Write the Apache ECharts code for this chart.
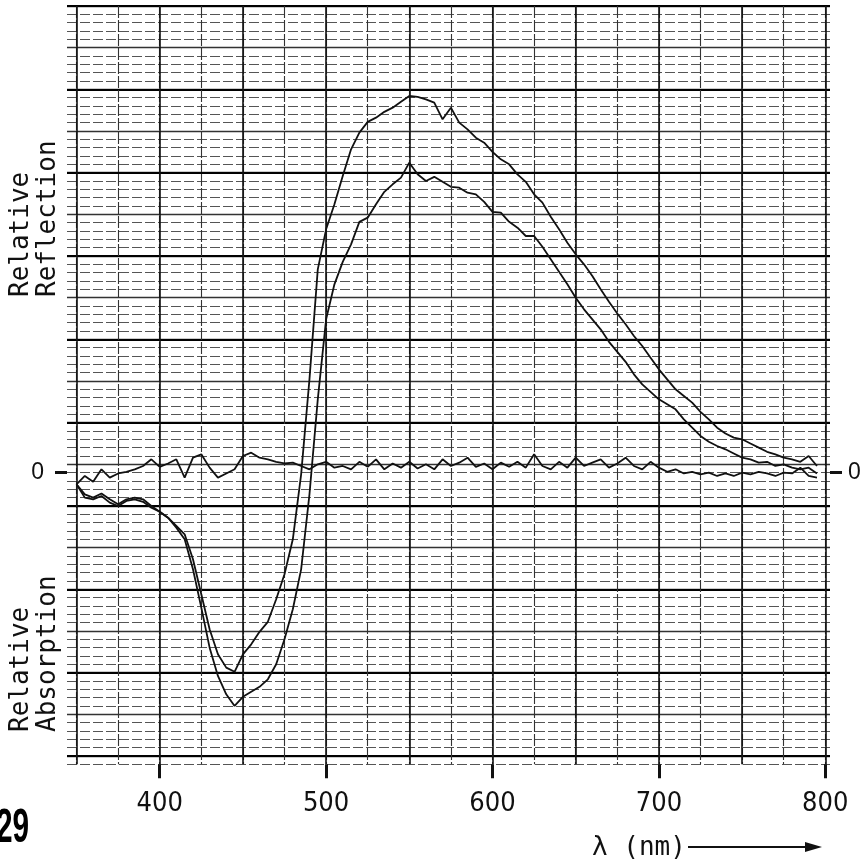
<!DOCTYPE html>
<html>
<head>
<meta charset="utf-8">
<script src="https://cdn.jsdelivr.net/npm/echarts@6/dist/echarts.min.js"></script>
<style>
  html, body { margin: 0; padding: 0; background: #fff; }
  #chart { width: 868px; height: 860px; }
</style>
</head>
<body>
<div id="chart"></div>
<script>
// Wavelengths (nm)
const wavelengths = [350,355,360,365,370,375,380,385,390,395,400,405,410,415,420,425,430,435,440,445,
  450,455,460,465,470,475,480,485,490,495,500,505,510,515,520,525,530,535,540,545,
  550,555,560,565,570,575,580,585,590,595,600,605,610,615,620,625,630,635,640,645,
  650,655,660,665,670,675,680,685,690,695,700,705,710,715,720,725,730,735,740,745,
  750,755,760,765,770,775,780,785,790,795];

// Curve A: shallower absorption trough, taller reflection peak (grid divisions)
const curveA = [-1.4,-3.0,-3.2,-2.8,-3.6,-4.0,-3.4,-3.2,-3.5,-4.2,
  -4.7,-5.4,-6.4,-7.4,-10.4,-14.6,-18.8,-21.8,-23.4,-23.9,
  -21.8,-20.6,-19.1,-17.9,-15.2,-12.2,-8.0,-0.2,11.2,24.4,
  29.2,32.2,35.6,38.8,40.8,42.1,42.6,43.3,43.8,44.5,
  45.2,45.1,44.8,44.4,42.4,43.8,42.0,41.2,40.2,39.6,
  38.5,37.6,37.0,35.8,34.9,33.4,32.4,30.7,29.2,27.6,
  26.2,25.0,23.6,22.0,20.5,19.1,17.8,16.4,15.2,13.8,
  12.4,11.2,10.0,9.2,8.4,7.3,6.4,5.4,4.7,4.2,
  4.0,3.5,3.0,2.5,2.2,1.8,1.6,1.3,2.0,0.8];

// Curve B: deeper absorption trough, lower reflection peak
const curveB = [-1.4,-2.6,-3.0,-2.5,-3.2,-3.8,-3.2,-3.0,-3.2,-4.0,
  -4.7,-5.4,-6.6,-8.0,-11.6,-16.2,-21.0,-24.4,-26.6,-28.0,
  -26.9,-26.3,-25.7,-24.8,-23.0,-20.0,-16.4,-11.6,-2.6,8.8,
  18.4,22.6,25.3,27.4,30.1,30.6,32.2,33.7,34.6,35.4,
  37.2,35.8,35.0,35.5,34.9,34.3,34.2,33.6,33.4,32.5,
  31.3,31.2,30.1,29.4,28.4,28.4,27.1,25.6,24.1,22.6,
  21.0,19.6,18.4,17.2,15.7,14.5,13.3,11.8,10.6,9.7,
  8.8,8.2,7.6,6.4,5.4,4.4,3.7,3.2,2.8,2.3,
  1.8,1.6,1.2,1.3,0.8,1.0,0.6,0.4,0.6,-0.1];

// Curve C: baseline
const curveC = [-1.4,-0.4,-1.1,0.4,-0.6,-0.1,0.1,0.4,0.8,1.6,
  0.7,1.1,1.6,-0.6,1.8,2.2,0.6,-0.6,-0.1,0.4,
  2.0,2.4,1.8,1.6,1.3,1.1,1.2,0.8,0.4,1.0,
  1.3,0.6,0.8,0.4,1.3,0.7,1.6,0.4,1.1,0.6,
  1.3,0.5,1.0,0.4,1.6,0.8,1.2,1.8,0.7,1.1,
  0.4,1.2,0.7,1.3,0.6,2.2,0.8,0.4,1.3,0.6,
  1.8,0.8,1.2,1.6,0.6,1.1,1.8,0.8,0.4,1.3,
  0.6,0.1,0.4,-0.1,0.1,-0.2,0.0,-0.4,-0.1,-0.4,
  0.0,-0.2,0.1,-0.1,-0.4,0.0,-0.1,0.6,-0.4,-0.6];

const xTickValues = [400, 500, 600, 700, 800];
const yTickValues = [0];

function pairs(ys) { return wavelengths.map((w, i) => [w, ys[i]]); }

const chart = echarts.init(document.getElementById('chart'), null, { renderer: 'canvas' });

const mono = "'DejaVu Sans Mono', 'Liberation Mono', monospace";
const cond = "'DejaVu Sans Condensed', 'Liberation Sans Narrow', 'DejaVu Sans', sans-serif";
const off = { show: false };

const option = {
  backgroundColor: '#ffffff',
  animation: false,
  grid: [
    { left: 67, right: 38, top: 6, bottom: 95.7 },   // minor horizontals
    { left: 67, right: 38, top: 6, bottom: 104 },    // major horizontals
    { left: 76.5, right: 42.7, top: 6, bottom: 95.7 } // verticals + data
  ],
  xAxis: [
    { gridIndex: 0, type: 'value', show: false, min: 0, max: 1 },
    { gridIndex: 1, type: 'value', show: false, min: 0, max: 1 },
    { gridIndex: 2, type: 'value', min: 350, max: 800, interval: 25,
      axisLine: off, axisTick: off, axisLabel: off,
      splitLine: { show: true, lineStyle: { color: '#333', width: 1.1, type: [12, 2] } } },
    { gridIndex: 2, type: 'value', min: 350, max: 800, interval: 50,
      axisLine: off, axisTick: off, axisLabel: off,
      splitLine: { show: true, lineStyle: { color: '#111', width: 1.6 } } },
    { gridIndex: 2, type: 'value', min: 350, max: 800, position: 'bottom',
      axisLine: off, splitLine: off,
      axisTick: { show: true, inside: false, length: 14, customValues: xTickValues,
        lineStyle: { color: '#111', width: 3 } },
      axisLabel: { show: true, customValues: xTickValues, margin: 26,
        fontFamily: cond, fontSize: 27, color: '#111' } }
  ],
  yAxis: [
    { gridIndex: 0, type: 'value', min: -35, max: 56, interval: 1,
      axisLine: off, axisTick: off, axisLabel: off,
      splitLine: { show: true, lineStyle: { color: '#555', width: 1, type: [10, 3] } } },
    { gridIndex: 0, type: 'value', min: -35, max: 56, position: 'left',
      axisLine: off, splitLine: off,
      axisTick: { show: true, inside: false, length: 12, customValues: yTickValues,
        lineStyle: { color: '#111', width: 3 } },
      axisLabel: { show: true, customValues: yTickValues, margin: 23,
        fontFamily: "'Liberation Sans', Arial, sans-serif", fontSize: 23, color: '#111' } },
    { gridIndex: 0, type: 'value', min: -35, max: 56, position: 'right',
      axisLine: off, splitLine: off,
      axisTick: { show: true, inside: false, length: 12, customValues: yTickValues,
        lineStyle: { color: '#111', width: 3 } },
      axisLabel: { show: true, customValues: yTickValues, margin: 18,
        fontFamily: "'Liberation Sans', Arial, sans-serif", fontSize: 23, color: '#111' } },
    { gridIndex: 1, type: 'value', min: 0, max: 90, interval: 5,
      axisLine: off, axisTick: off, axisLabel: off,
      splitLine: { show: true, lineStyle: { color: '#333', width: 1.3 } } },
    { gridIndex: 1, type: 'value', min: 0, max: 90, interval: 10,
      axisLine: off, axisTick: off, axisLabel: off,
      splitLine: { show: true, lineStyle: { color: '#000', width: 2.2 } } },
    { gridIndex: 2, type: 'value', min: -35, max: 56, show: false }
  ],
  series: [
    { type: 'line', xAxisIndex: 2, yAxisIndex: 5, data: pairs(curveC), showSymbol: false,
      lineStyle: { color: '#111', width: 1.8 }, z: 5 },
    { type: 'line', xAxisIndex: 2, yAxisIndex: 5, data: pairs(curveA), showSymbol: false,
      lineStyle: { color: '#111', width: 1.8 }, z: 5 },
    { type: 'line', xAxisIndex: 2, yAxisIndex: 5, data: pairs(curveB), showSymbol: false,
      lineStyle: { color: '#111', width: 1.8 }, z: 5 }
  ],
  graphic: [
    { type: 'text', x: 21, y: 297, rotation: Math.PI / 2,
      style: { text: 'Relative', font: "26px " + mono, fill: '#111', textAlign: 'left', textVerticalAlign: 'middle' } },
    { type: 'text', x: 48, y: 297, rotation: Math.PI / 2,
      style: { text: 'Reflection', font: "26px " + mono, fill: '#111', textAlign: 'left', textVerticalAlign: 'middle' } },
    { type: 'text', x: 21, y: 732, rotation: Math.PI / 2,
      style: { text: 'Relative', font: "26px " + mono, fill: '#111', textAlign: 'left', textVerticalAlign: 'middle' } },
    { type: 'text', x: 48, y: 732, rotation: Math.PI / 2,
      style: { text: 'Absorption', font: "26px " + mono, fill: '#111', textAlign: 'left', textVerticalAlign: 'middle' } },
    { type: 'text', x: -4, y: 853, scaleX: 0.62,
      style: { text: '29', font: "bold 48px 'Liberation Sans', 'DejaVu Sans', sans-serif",
        fill: '#000', textAlign: 'left', textVerticalAlign: 'bottom' } },
    { type: 'text', x: 592, y: 848,
      style: { text: 'λ (nm)', font: "26px " + mono, fill: '#111', textAlign: 'left', textVerticalAlign: 'middle' } },
    { type: 'polyline', shape: { points: [[688, 847], [808, 847]] },
      style: { stroke: '#111', lineWidth: 2.2 } },
    { type: 'polygon', shape: { points: [[805, 842], [822, 847], [805, 852]] },
      style: { fill: '#111' } }
  ]
};
chart.setOption(option);
</script>
</body>
</html>
